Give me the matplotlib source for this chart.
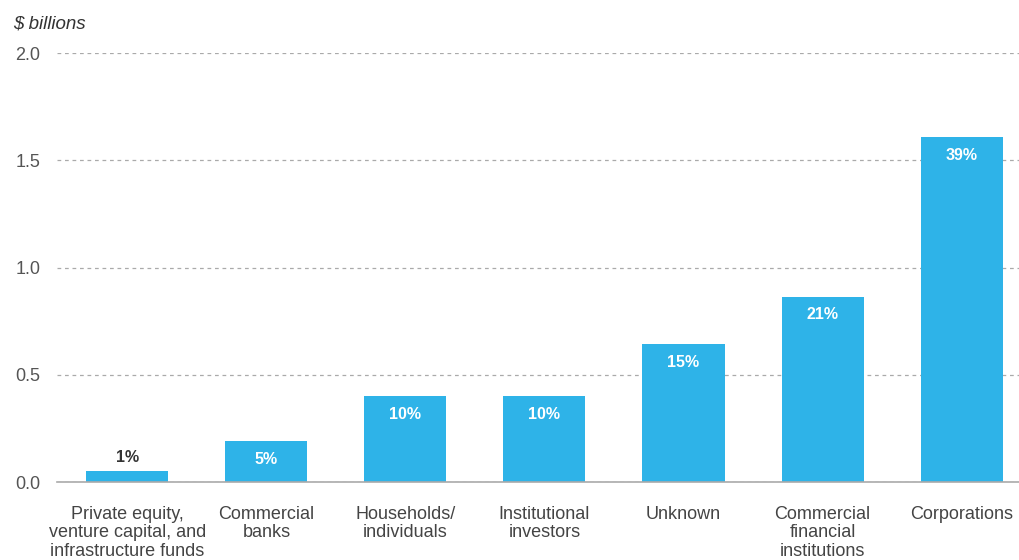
import matplotlib.pyplot as plt

categories = ["Private equity,\nventure capital, and\ninfrastructure funds",
              "Commercial\nbanks", "Households/\nindividuals", "Institutional\ninvestors",
              "Unknown", "Commercial\nfinancial\ninstitutions", "Corporations"]
values = [0.05, 0.19, 0.40, 0.40, 0.645, 0.865, 1.61]
shares = ["1%", "5%", "10%", "10%", "15%", "21%", "39%"]

plt.rcParams['font.family'] = ['Liberation Sans', 'DejaVu Sans']

fig = plt.figure(figsize=(10.2, 5.6), dpi=100)
ax = fig.add_axes([0.056, 0.139, 0.944, 0.766])

x = range(len(categories))
bars = ax.bar(x, values, width=0.59, color="#2eb3e8", zorder=3)

for i, b in enumerate(bars):
    h = b.get_height()
    if h < 0.1:
        ax.text(b.get_x() + b.get_width() / 2, h + 0.03, shares[i], ha="center", va="bottom",
                fontsize=11.5, fontweight="bold", color="#333333")
    else:
        ax.text(b.get_x() + b.get_width() / 2, h - 0.05, shares[i], ha="center", va="top",
                fontsize=11.5, fontweight="bold", color="white")

ax.set_xlim(-0.505, 6.42)
ax.set_ylim(0, 2.0)
ax.set_yticks([0, 0.5, 1.0, 1.5, 2.0])
ax.set_yticklabels(["0.0", "0.5", "1.0", "1.5", "2.0"])
ax.set_xticks(list(x))
ax.set_xticklabels(categories, fontsize=13, color="#444444", linespacing=1.12)
ax.tick_params(axis="y", length=0, labelsize=13, labelcolor="#555555", pad=12)
ax.tick_params(axis="x", length=0, pad=17)

ax.yaxis.grid(True, linestyle=(0, (3, 3)), color="#aaaaaa", linewidth=0.9, zorder=0)
for s in ["top", "right", "left"]:
    ax.spines[s].set_visible(False)
ax.spines["bottom"].set_color("#aaaaaa")
ax.spines["bottom"].set_linewidth(1.2)
ax.spines["bottom"].set_zorder(4)

fig.text(0.013, 0.958, "$ billions", fontsize=13.5, style="italic", color="#333333",
         ha="left", va="center")

fig.savefig("out.png", dpi=100)
